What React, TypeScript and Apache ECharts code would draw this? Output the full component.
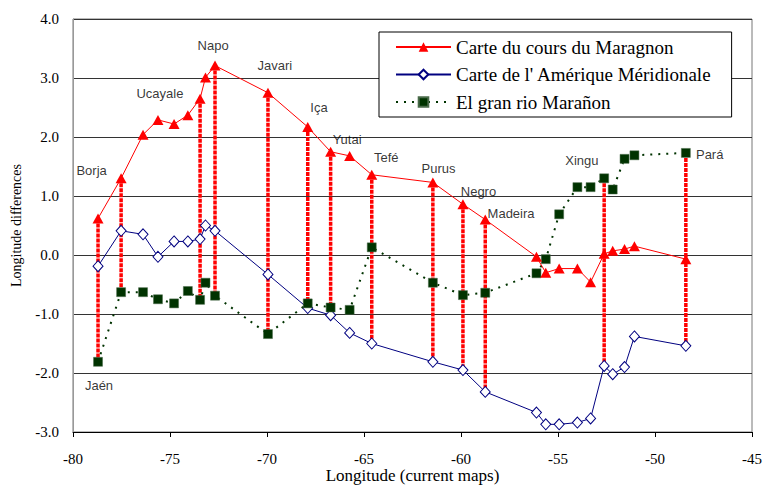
import React, { useEffect, useRef } from "react";
import * as echarts from "echarts";

// Longitude on current maps of each identified place (shared by the three maps)
const longitudes = [
  -78.71, -77.52, -76.39, -75.62, -74.79, -74.08, -73.45, -73.17, -72.68,
  -69.95, -67.9, -66.72, -65.74, -64.6, -61.45, -59.9, -58.75, -56.11,
  -55.63, -54.94, -54.0, -53.32, -52.62, -52.18, -51.57, -51.06, -48.41,
];

// Longitude differences per map
const maragnonDiff = [
  0.62, 1.3, 2.04, 2.29, 2.22, 2.37, 2.65, 3.01, 3.21, 2.75, 2.17, 1.75, 1.68,
  1.36, 1.23, 0.86, 0.6, -0.03, -0.3, -0.23, -0.23, -0.46, 0.02, 0.07, 0.1,
  0.15, -0.07,
];
const ameriqueDiff = [
  -0.19, 0.41, 0.35, -0.03, 0.23, 0.23, 0.27, 0.5, 0.41, -0.33, -0.9, -1.02,
  -1.32, -1.5, -1.81, -1.95, -2.32, -2.67, -2.87, -2.87, -2.84, -2.77, -1.88,
  -2.02, -1.9, -1.38, -1.54,
];
const granRioDiff = [
  -1.81, -0.63, -0.63, -0.75, -0.82, -0.61, -0.76, -0.47, -0.69, -1.34, -0.82,
  -0.89, -0.93, 0.13, -0.47, -0.68, -0.64, -0.31, -0.07, 0.69, 1.15, 1.15,
  1.3, 1.11, 1.63, 1.69, 1.73,
];

const seriesNames = [
  "Carte du cours du Maragnon",
  "Carte de l' Amérique Méridionale",
  "El gran rio Marañon",
];

// Places linked across the maps by vertical red bars (indices into longitudes)
const linkedPlaces = [0, 1, 6, 8, 9, 10, 11, 13, 14, 15, 16, 22, 26];

// Place-name annotations
const placeNames = [
  "Borja", "Ucayale", "Napo", "Javari", "Iça", "Yutai", "Tefé", "Purus",
  "Negro", "Madeira", "Xingu", "Pará", "Jaén",
];
const placeLon = [
  -79.04, -75.52, -72.78, -69.6, -67.32, -65.87, -63.85, -61.16, -59.1,
  -57.42, -53.77, -47.18, -78.66,
];
const placeDiff = [
  1.43, 2.74, 3.55, 3.22, 2.5, 1.95, 1.66, 1.47, 1.08, 0.71, 1.6, 1.7, -2.21,
];

const xTicks = { min: -80, max: -45, interval: 5 };
const yTicks = { min: -3, max: 4, interval: 1 };

const SERIF = "'Liberation Serif', 'Times New Roman', serif";
const SANS = "'Liberation Sans', Arial, sans-serif";

export default function App() {
  const ref = useRef<HTMLDivElement>(null);

  useEffect(() => {
    if (!ref.current) return;
    const chart = echarts.init(ref.current, undefined, { renderer: "svg" });

    const pairs = (ys: number[]) => longitudes.map((x, i) => [x, ys[i]]);
    const bars = linkedPlaces.map((i) => {
      const vals = [maragnonDiff[i], ameriqueDiff[i], granRioDiff[i]];
      return [longitudes[i], Math.max(...vals), Math.min(...vals)];
    });
    const labels = placeNames.map((n, i) => ({
      name: n,
      value: [placeLon[i], placeDiff[i]],
    }));

    chart.setOption({
      animation: false,
      backgroundColor: "#fff",
      grid: {
        left: 73,
        right: 12,
        top: 19,
        bottom: 54,
        outerBoundsMode: "none",
        containLabel: false,
        show: true,
        borderColor: "#777",
        borderWidth: 1,
      },
      legend: {
        data: [
          { name: seriesNames[0] },
          { name: seriesNames[1] },
          { name: seriesNames[2] },
        ],
        orient: "vertical",
        left: 379,
        top: 32,
        itemWidth: 55,
        itemHeight: 12,
        itemGap: 5.5,
        padding: [4, 20, 4, 16],
        borderColor: "#000",
        borderWidth: 1,
        backgroundColor: "#fff",
        textStyle: {
          fontFamily: SERIF,
          fontSize: 19,
          color: "#000",
          lineHeight: 22,
        },
      },
      xAxis: {
        type: "value",
        min: xTicks.min,
        max: xTicks.max,
        interval: xTicks.interval,
        axisLine: { show: true, onZero: false, lineStyle: { color: "#000" } },
        axisTick: { show: true, inside: false, length: 5, lineStyle: { color: "#000" } },
        axisLabel: { fontFamily: SERIF, fontSize: 15, color: "#000", margin: 19 },
        splitLine: { show: false },
        name: "Longitude (current maps)",
        nameLocation: "middle",
        nameGap: 35,
        nameMoveOverlap: false,
        nameTextStyle: { fontFamily: SERIF, fontSize: 17, color: "#000" },
      },
      yAxis: {
        type: "value",
        min: yTicks.min,
        max: yTicks.max,
        interval: yTicks.interval,
        axisLine: { show: true, onZero: false, lineStyle: { color: "#999" } },
        axisTick: { show: false },
        axisLabel: {
          fontFamily: SERIF,
          fontSize: 15,
          color: "#000",
          margin: 14,
          formatter: (v: number) => v.toFixed(1),
        },
        splitLine: { show: true, lineStyle: { color: "#333", width: 1 } },
        name: "Longitude differences",
        nameLocation: "middle",
        nameGap: 50,
        nameMoveOverlap: false,
        nameTextStyle: { fontFamily: SERIF, fontSize: 14, color: "#000" },
      },
      series: [
        {
          name: "links",
          type: "custom",
          z: 2,
          silent: true,
          encode: { x: 0, y: [1, 2] },
          data: bars,
          renderItem: (params: any, api: any) => {
            const x = api.value(0);
            const p1 = api.coord([x, api.value(1)]);
            const p2 = api.coord([x, api.value(2)]);
            return {
              type: "line",
              shape: { x1: p1[0], y1: p1[1], x2: p2[0], y2: p2[1] },
              style: { stroke: "#ff0000", lineWidth: 3.5, lineDash: [4, 1] },
            };
          },
        },
        {
          name: seriesNames[1],
          type: "line",
          z: 3,
          data: pairs(ameriqueDiff),
          symbol: "diamond",
          symbolSize: [10, 11],
          color: "#000080",
          lineStyle: { color: "#000080", width: 1 },
          itemStyle: { color: "#fff", borderColor: "#000080", borderWidth: 1 },
        },
        {
          name: seriesNames[2],
          type: "line",
          z: 4,
          data: pairs(granRioDiff),
          symbol: "rect",
          symbolSize: 9,
          color: "#003300",
          lineStyle: { color: "#003300", width: 2, type: [2, 6] },
          itemStyle: { color: "#003300", borderColor: "#4a6b4a", borderWidth: 0.5 },
        },
        {
          name: seriesNames[0],
          type: "line",
          z: 5,
          data: pairs(maragnonDiff),
          symbol: "triangle",
          symbolSize: [11, 10],
          color: "#ff0000",
          lineStyle: { color: "#ff0000", width: 1 },
          itemStyle: { color: "#ff0000" },
        },
        {
          name: "places",
          type: "scatter",
          z: 6,
          silent: true,
          data: labels,
          symbol: "circle",
          symbolSize: 1,
          itemStyle: { color: "rgba(0,0,0,0)" },
          label: {
            show: true,
            position: "inside",
            formatter: "{b}",
            fontFamily: SANS,
            fontSize: 13,
            color: "#000",
          },
        },
      ],
    });

    return () => chart.dispose();
  }, []);

  return (
    <div
      ref={ref}
      style={{ position: "fixed", left: 0, top: 0, width: 764, height: 486 }}
    />
  );
}
